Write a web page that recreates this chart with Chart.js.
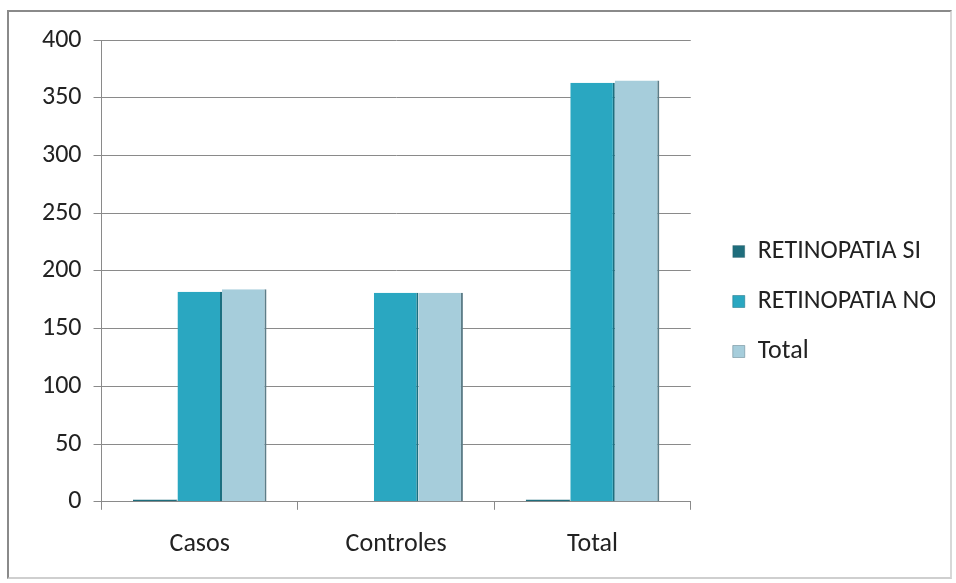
<!DOCTYPE html>
<html>
<head>
<meta charset="utf-8">
<script src="https://cdn.jsdelivr.net/npm/chart.js@4"></script>
<style>
  body { margin: 0; background: #fff; }
  #wrap { position: absolute; left: 7px; top: 10px; width: 941px; height: 565px; border: 2px solid #8a8a8a; border-right-color: #d8d8d8; border-bottom-color: #cfcfcf; }
  #chart { position: absolute; left: 0; top: 0; }
</style>
</head>
<body>
<div id="wrap"></div>
<canvas id="chart" width="956" height="583"></canvas>
<script>
const categories = ['Casos', 'Controles', 'Total'];
const retinopatiaSi = [2, 0, 2];
const retinopatiaNo = [182, 181, 363];
const totalValues = [184, 181, 365];
const yTicks = [0, 50, 100, 150, 200, 250, 300, 350, 400];

const ctx = document.getElementById('chart').getContext('2d');
const axisFont = { family: "Carlito, Lato, 'Noto Sans', sans-serif", size: 26 };
const legendGap = 18;

// push the legend a bit further away from the plot, like the original
const legendShift = {
  id: 'legendShift',
  afterInit(chart) {
    const lg = chart.legend;
    const origFit = lg.fit;
    lg.fit = function () {
      origFit.call(this);
      this.width += legendGap;
    };
  },
  afterLayout(chart) {
    chart.legend.left += legendGap;
    chart.legend.top -= 8;
    chart.legend.bottom -= 8;
  }
};

new Chart(ctx, {
  type: 'bar',
  data: {
    labels: categories,
    datasets: [
      {
        label: 'RETINOPATIA SI',
        data: retinopatiaSi,
        backgroundColor: '#1f6d7c',
        borderColor: '#2c4f58',
        borderWidth: { right: 1, left: 0, top: 0, bottom: 0 }
      },
      {
        label: 'RETINOPATIA NO',
        data: retinopatiaNo,
        backgroundColor: '#2aa7c1',
        borderColor: '#1b6f80',
        borderWidth: { right: 2, left: 0, top: 0, bottom: 0 }
      },
      {
        label: 'Total',
        data: totalValues,
        backgroundColor: '#a6cddb',
        borderColor: '#5d7d88',
        borderWidth: { right: 2, left: 0, top: 0, bottom: 0 }
      }
    ]
  },
  plugins: [legendShift],
  options: {
    responsive: false,
    animation: false,
    layout: { padding: { left: 30, right: 21, top: 40, bottom: 4 } },
    datasets: {
      bar: { barPercentage: 1, categoryPercentage: 0.68 }
    },
    plugins: {
      legend: {
        position: 'right',
        align: 'center',
        labels: {
          font: axisFont,
          color: '#222',
          boxWidth: 12,
          boxHeight: 12,
          padding: 24
        }
      },
      tooltip: { enabled: false }
    },
    scales: {
      x: {
        grid: { drawOnChartArea: false, drawTicks: true, tickLength: 8, color: '#8a8a8a' },
        border: { color: '#8a8a8a' },
        ticks: { font: axisFont, color: '#222', padding: 19 }
      },
      y: {
        min: 0,
        max: 400,
        afterBuildTicks: (axis) => { axis.ticks = yTicks.map(v => ({ value: v })); },
        grid: { color: '#8a8a8a', tickLength: 8 },
        border: { color: '#8a8a8a' },
        ticks: { font: axisFont, color: '#222', padding: 12 }
      }
    }
  }
});
</script>
</body>
</html>
